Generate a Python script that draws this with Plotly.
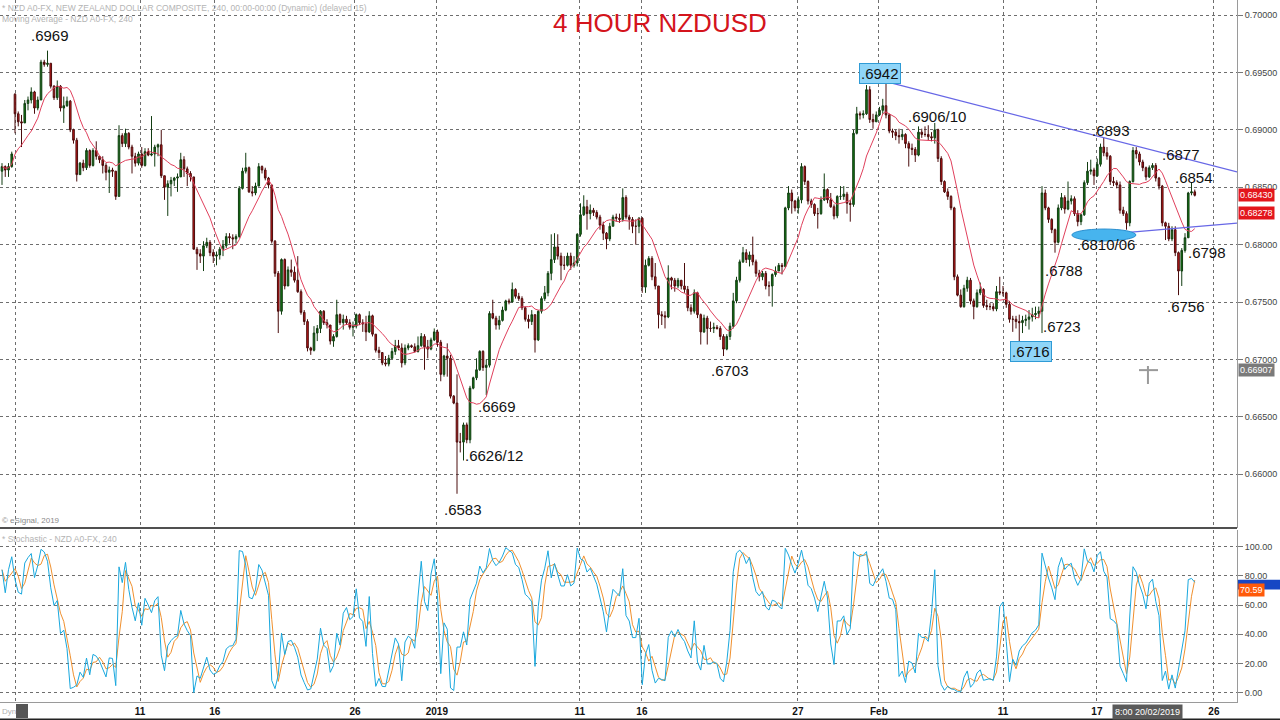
import plotly.graph_objects as go

# ---------------- data (prices in pips: value / 10000) ----------------
closes_pips = [
    6868,6865,6868,6879,6914,6907,6906,6923,6926,6933,6919,6926,6959,6957,6958,6938,6928,6938,6919,6921,
    6925,6900,6891,6861,6871,6867,6882,6869,6882,6877,6874,6869,6863,6865,6864,6842,6895,6888,6897,6885,
    6877,6871,6879,6869,6881,6878,6879,6885,6887,6860,6850,6853,6856,6858,6859,6874,6866,6862,6859,6796,
    6792,6790,6799,6802,6793,6790,6791,
    6796,6799,6807,6806,6805,6807,6849,6864,6867,6846,6845,6851,6868,6865,6858,6852,6803,6775,6742,6787,
    6764,6778,6776,6769,6759,6741,6733,6710,6708,6723,6727,6742,6732,6730,6716,6720,6739,6732,6735,6732,
    6728,6729,6739,6732,6731,6724,6738,6722,6708,6706,6697,6696,6701,6707,6712,6710,6697,6710,6712,6711,
    6707,6712,6720,6711,
    6709,6717,6724,6715,6687,6703,6701,6668,6662,6628,6628,6643,6630,6675,6684,6691,6707,6693,6695,6740,
    6736,6730,6734,6743,6751,6750,6761,6755,6753,6745,6735,6733,6739,6717,6742,6753,6758,6775,6787,6798,
    6790,6782,6782,6790,6782,6784,6809,6826,6833,6827,6830,6828,6824,6817,6810,6805,6816,6824,6823,6822,
    6841,6824,6822,6816,6816,
    6823,6763,6782,6788,6772,6764,6739,6738,6737,6771,6769,6764,6769,6764,6761,6745,6742,6758,6739,6724,
    6736,6727,6727,6728,6727,6720,6709,6720,6729,6751,6769,6785,6793,6787,6791,6785,6775,6772,6775,6764,
    6764,6774,6777,6782,6781,6832,6845,6838,6832,6839,6868,6855,6838,6835,6827,6827,6839,6848,6839,6833,
    6825,6842,6842,6844,
    6836,6835,6897,6914,6913,6914,6935,6909,6907,6913,6917,6921,6913,6899,6898,6895,6894,6896,6888,6884,
    6883,6878,6898,6896,6896,6894,6893,6900,6875,6855,6846,6842,6832,6772,6756,6746,6762,6769,6751,6746,
    6758,6761,6747,6746,6746,6744,6759,6758,6758,6748,6735,6735,6733,6732,6734,6735,6737,6739,6740,6742,
    6845,6832,6822,6813,6802,6832,6841,6831,6838,6840,6827,6820,6826,6854,6864,6865,6860,6870,6885,6880,
    6877,6855,6854,6852,6830,6827,6819,6855,6882,6879,6872,6867,6859,6867,6869,6858,6851,6819,6816,6805,
    6813,6793,6777,6795,6806,6845,6846,6843,
]

highs_pips = [
    6871,6869,6871,6881,6932,6916,6913,6926,6929,6937,6934,6929,6961,6961,6969,6958,6939,6943,6939,6929,
    6929,6926,6901,6893,6872,6874,6884,6883,6884,6890,6877,6877,6871,6868,6867,6864,6904,6897,6901,6898,
    6887,6880,6881,6885,6884,6884,6912,6887,6888,6900,6859,6856,6859,6859,6862,6880,6877,6868,6864,6856,
    6798,6796,6803,6806,6804,6796,6794,
    6798,6804,6810,6810,6809,6809,6851,6867,6880,6868,6851,6854,6871,6869,6867,6859,6852,6804,6777,6788,
    6788,6781,6787,6781,6790,6761,6743,6735,6711,6729,6730,6743,6743,6735,6730,6722,6752,6740,6739,6738,
    6735,6733,6740,6740,6735,6738,6742,6739,6722,6711,6706,6703,6704,6710,6717,6717,6714,6713,6714,6713,
    6714,6720,6723,6722,
    6717,6719,6727,6726,6717,6704,6714,6704,6669,6687,6636,6645,6645,6677,6685,6701,6708,6708,6700,6742,
    6752,6738,6738,6746,6752,6753,6767,6762,6758,6755,6746,6739,6743,6735,6743,6755,6764,6777,6809,6810,
    6809,6793,6790,6793,6793,6790,6810,6836,6843,6839,6835,6832,6830,6826,6820,6811,6819,6826,6827,6827,
    6849,6843,6826,6824,6822,
    6824,6824,6787,6790,6790,6784,6764,6742,6742,6782,6772,6771,6771,6769,6784,6764,6748,6761,6759,6740,
    6739,6738,6733,6732,6730,6729,6722,6722,6732,6758,6772,6787,6798,6796,6794,6807,6787,6778,6777,6777,
    6768,6775,6781,6784,6784,6833,6851,6848,6839,6842,6871,6869,6856,6840,6836,6832,6842,6862,6849,6845,
    6835,6843,6851,6851,
    6846,6839,6900,6920,6916,6917,6939,6938,6914,6916,6920,6927,6942,6914,6901,6900,6901,6900,6897,6890,
    6888,6885,6903,6901,6903,6904,6898,6906,6901,6877,6856,6849,6843,6833,6774,6761,6765,6772,6771,6753,
    6761,6767,6762,6752,6749,6749,6764,6772,6764,6759,6751,6738,6738,6739,6738,6739,6743,6745,6746,6746,
    6851,6848,6833,6823,6814,6835,6845,6843,6855,6843,6842,6830,6827,6856,6872,6874,6867,6875,6888,6893,
    6885,6878,6859,6856,6855,6833,6829,6856,6885,6885,6881,6874,6868,6869,6871,6871,6859,6852,6820,6819,
    6816,6816,6794,6797,6810,6846,6854,6848,
]

lows_pips = [
    6852,6859,6859,6867,6897,6903,6885,6909,6917,6923,6914,6917,6926,6955,6955,6936,6926,6926,6916,6906,
    6920,6898,6888,6855,6861,6864,6865,6867,6868,6874,6871,6862,6856,6845,6859,6839,6842,6885,6885,6883,
    6862,6868,6869,6867,6868,6877,6877,6868,6877,6858,6839,6825,6842,6851,6846,6859,6859,6851,6855,6796,
    6778,6784,6777,6797,6790,6784,6782,
    6787,6790,6797,6801,6796,6801,6806,6848,6862,6845,6842,6843,6851,6862,6856,6849,6801,6772,6723,6739,
    6761,6764,6772,6767,6758,6739,6730,6707,6704,6707,6716,6723,6730,6727,6713,6711,6719,6730,6726,6730,
    6726,6720,6727,6730,6724,6716,6723,6720,6706,6701,6695,6694,6694,6700,6704,6708,6693,6695,6708,6710,
    6706,6706,6711,6691,
    6701,6708,6716,6711,6681,6685,6685,6666,6661,6583,6619,6612,6627,6627,6674,6682,6690,6690,6669,6693,
    6735,6726,6726,6733,6742,6748,6751,6753,6751,6743,6733,6727,6730,6706,6716,6740,6751,6755,6769,6784,
    6787,6769,6778,6781,6778,6780,6781,6807,6825,6813,6822,6825,6822,6813,6804,6796,6803,6816,6820,6819,
    6820,6822,6813,6810,6800,
    6810,6758,6758,6781,6769,6761,6727,6730,6727,6736,6761,6759,6762,6761,6758,6742,6739,6740,6736,6713,
    6723,6713,6724,6723,6726,6717,6703,6708,6717,6727,6749,6767,6784,6784,6781,6782,6772,6768,6769,6761,
    6755,6746,6772,6777,6774,6780,6830,6827,6829,6827,6836,6852,6835,6832,6825,6814,6826,6838,6836,6832,
    6822,6823,6839,6839,
    6827,6820,6833,6896,6909,6910,6913,6906,6901,6909,6912,6914,6910,6897,6893,6891,6888,6891,6884,6868,
    6878,6872,6877,6893,6894,6891,6890,6888,6872,6852,6845,6839,6830,6769,6755,6745,6745,6759,6748,6735,
    6745,6756,6745,6743,6743,6742,6742,6756,6755,6745,6732,6724,6727,6716,6723,6729,6726,6733,6735,6736,
    6723,6830,6819,6810,6793,6801,6830,6827,6830,6835,6825,6816,6817,6825,6852,6861,6852,6859,6868,6877,
    6874,6852,6851,6849,6827,6825,6813,6816,6854,6875,6869,6864,6856,6858,6865,6855,6848,6816,6804,6803,
    6803,6790,6756,6764,6793,6806,6843,6842,
]

# candles that open on a gap (index -> open in pips); others open at the previous close
gap_open_idx = [0, 4]
gap_open_pips = [6864, 6931]

# x axis (candle index) ticks
tick_idx = [4.3, 42.5, 65.5, 108.6, 133.8, 177.8, 196.9, 244.9, 269.8, 308.0, 336.9, 372.9]
tick_text = ["", "11", "16", "26", "2019", "11", "16", "27", "Feb", "11", "17", "26"]

price_ticks = [0.660, 0.665, 0.670, 0.675, 0.680, 0.685, 0.690, 0.695, 0.700]
stoch_ticks = [0, 20, 40, 60, 80, 100]

# chart annotations (price levels)
level_texts = [".6969", ".6942", ".6906/10", ".6893", ".6877", ".6854", ".6810/06", ".6798",
               ".6788", ".6756", ".6723", ".6716", ".6703", ".6669", ".6626/12", ".6583"]
boxed_levels = [".6942", ".6716"]

trend_upper = ([272.6, 380.0], [0.69416, 0.68633])
trend_lower = ([339.4, 380.0], [0.68090, 0.68188])
support_zone_idx = [329.2, 348.9]
support_zone_price = [0.68032, 0.68136]

last_close_tag = 0.68430
ma_tag = 0.68278
cursor_idx = 352.6
cursor_price = 0.66907
cursor_time = "8:00 20/02/2019"
stoch_k_tag = 74.8
stoch_d_tag = 70.59

MA_PERIOD = 10
K_PERIOD = 14
D_PERIOD = 3

# ---------------- derived series ----------------
n = len(closes_pips)
gap_map = dict(zip(gap_open_idx, gap_open_pips))
opens_p = []
for i in range(n):
    if i in gap_map:
        opens_p.append(gap_map[i])
    else:
        opens_p.append(closes_pips[i - 1])
highs_p = [max(h, o, c) for h, o, c in zip(highs_pips, opens_p, closes_pips)]
lows_p = [min(l, o, c) for l, o, c in zip(lows_pips, opens_p, closes_pips)]

opens = [v / 10000 for v in opens_p]
highs = [v / 10000 for v in highs_p]
lows = [v / 10000 for v in lows_p]
closes = [v / 10000 for v in closes_pips]
xs = list(range(n))

ma = []
for i in range(n):
    w = closes[max(0, i - MA_PERIOD + 1): i + 1]
    ma.append(sum(w) / len(w))

k_line = []
for i in range(n):
    lo = min(lows[max(0, i - K_PERIOD + 1): i + 1])
    hi = max(highs[max(0, i - K_PERIOD + 1): i + 1])
    k_line.append(100 * (closes[i] - lo) / (hi - lo) if hi > lo else 50)
d_line = []
for i in range(n):
    w = k_line[max(0, i - D_PERIOD + 1): i + 1]
    d_line.append(sum(w) / len(w))

# ---------------- geometry helpers (page pixels -> paper) ----------------
PLOT_W = 1237.0
PLOT_H = 702.0
def pxx(px):
    return px / PLOT_W
def pxy(py):
    return 1 - py / PLOT_H

FONT = "Liberation Sans, Arial, sans-serif"
GRID = "#6e6e6e"
DASH = "3px,3px"

fig = go.Figure()

fig.add_trace(go.Candlestick(
    x=xs, open=opens, high=highs, low=lows, close=closes,
    increasing=dict(line=dict(color="#123d12", width=1), fillcolor="#117a11"),
    decreasing=dict(line=dict(color="#4a0c0c", width=1), fillcolor="#c81818"),
    whiskerwidth=0, showlegend=False, hoverinfo="skip", xaxis="x", yaxis="y",
))
fig.add_trace(go.Scatter(x=xs, y=ma, mode="lines", line=dict(color="#e0405c", width=1),
                         showlegend=False, hoverinfo="skip", xaxis="x", yaxis="y"))

for xx, yy in (trend_upper, trend_lower):
    fig.add_trace(go.Scatter(x=xx, y=yy, mode="lines", line=dict(color="#6767e6", width=1.2),
                             showlegend=False, hoverinfo="skip", xaxis="x", yaxis="y", cliponaxis=False))

fig.add_trace(go.Scatter(x=xs, y=d_line, mode="lines", line=dict(color="#f0902e", width=1),
                         showlegend=False, hoverinfo="skip", xaxis="x2", yaxis="y2"))
fig.add_trace(go.Scatter(x=xs, y=k_line, mode="lines", line=dict(color="#19a8de", width=1),
                         showlegend=False, hoverinfo="skip", xaxis="x2", yaxis="y2"))

shapes = []
# support ellipse
shapes.append(dict(type="circle", xref="x", yref="y",
                   x0=support_zone_idx[0], x1=support_zone_idx[1],
                   y0=support_zone_price[0], y1=support_zone_price[1],
                   fillcolor="#47b4ee", line=dict(color="#2a8fd0", width=1), layer="above"))
# panel separator
shapes.append(dict(type="line", xref="paper", yref="paper", x0=0, x1=1, y0=pxy(528), y1=pxy(528),
                   line=dict(color="#505050", width=2)))
# bottom bar
shapes.append(dict(type="line", xref="paper", yref="paper", x0=0, x1=1280 / PLOT_W, y0=pxy(719.5), y1=pxy(719.5),
                   line=dict(color="#222222", width=2)))
# cursor crosshair
shapes.append(dict(type="line", xref="x", yref="paper", x0=cursor_idx, x1=cursor_idx,
                   y0=pxy(366), y1=pxy(384), line=dict(color="#9a9a9a", width=2)))
shapes.append(dict(type="line", xref="paper", yref="y", x0=pxx(1139), x1=pxx(1158),
                   y0=cursor_price, y1=cursor_price, line=dict(color="#9a9a9a", width=2)))
# icon bottom-left
shapes.append(dict(type="rect", xref="paper", yref="paper", x0=pxx(16), x1=pxx(28), y0=pxy(718), y1=pxy(704),
                   fillcolor="#555555", line=dict(width=0)))
# %K value tag (mostly hidden behind the %D tag)
shapes.append(dict(type="rect", xref="paper", yref="y2", x0=1.0 + 1 / PLOT_W, x1=1280 / PLOT_W,
                   y0=stoch_d_tag, y1=stoch_k_tag + 2.5, fillcolor="#1747c4", line=dict(width=0)))

annotations = []
def txt(text, px, py, size=15, color="#111111", xanchor="center", yanchor="middle", **kw):
    annotations.append(dict(text=text, xref="paper", yref="paper", x=pxx(px), y=pxy(py),
                            xanchor=xanchor, yanchor=yanchor, showarrow=False,
                            font=dict(family=FONT, size=size, color=color), **kw))

txt("4 HOUR NZDUSD", 660, 23, size=26, color="#d4141c")
txt("* NZD A0-FX, NEW ZEALAND DOLLAR COMPOSITE, 240, 00:00-00:00 (Dynamic) (delayed 15)", 0, 8,
    size=8.5, color="#b4b4b4", xanchor="left")
txt("Moving Average - NZD A0-FX, 240", 0, 19, size=8.5, color="#b4b4b4", xanchor="left")
txt("© eSignal, 2019", 0, 520, size=8, color="#8a8a8a", xanchor="left")
txt("* Stochastic - NZD A0-FX, 240", 0, 539, size=8.5, color="#b4b4b4", xanchor="left")
txt("Dyn", 0, 711, size=8, color="#b0b0b0", xanchor="left")

label_px = [(50, 35), (880, 73), (937, 117), (1111, 131), (1181, 155), (1194, 177), (1106, 244), (1207, 252),
            (1064, 270), (1186, 306), (1062, 326), (1031, 351), (730, 370), (497, 406), (494, 455), (463, 509)]
for t, (px, py) in zip(level_texts, label_px):
    if t in boxed_levels:
        txt(t, px, py, size=15, bgcolor="#8fd5f8", bordercolor="#2f9bd6", borderwidth=1, borderpad=1)
    else:
        txt(t, px, py, size=15)

# axis value tags
def tag(text, yval, yref, bg, fg="#ffffff"):
    annotations.append(dict(text=text, xref="paper", yref=yref, x=1.0, y=yval, xanchor="left", yanchor="middle",
                            xshift=1, showarrow=False, bgcolor=bg, borderpad=1,
                            font=dict(family=FONT, size=9, color=fg)))
tag("%.5f" % last_close_tag, last_close_tag, "y", "#e3161c")
tag("%.5f" % ma_tag, ma_tag, "y", "#e3161c")
tag("%.5f" % cursor_price, cursor_price, "y", "#7a7a7a")
tag("%.2f" % stoch_d_tag, stoch_d_tag, "y2", "#ff5a0a")
annotations.append(dict(text=cursor_time, xref="x", yref="paper", x=cursor_idx, y=pxy(712),
                        xanchor="center", yanchor="middle", showarrow=False, bgcolor="#5a5a5a",
                        borderpad=2, font=dict(family=FONT, size=9, color="#ffffff")))

axis_common = dict(showgrid=True, gridcolor=GRID, griddash=DASH, gridwidth=1, zeroline=False)

fig.update_layout(
    width=1280, height=720,
    margin=dict(l=0, r=43, t=0, b=18),
    paper_bgcolor="#ffffff", plot_bgcolor="#ffffff",
    showlegend=False,
    font=dict(family=FONT, color="#333333"),
    xaxis=dict(domain=[0, 1], anchor="y", range=[-0.615, 380.0], tickvals=tick_idx,
               showticklabels=False, ticks="", rangeslider=dict(visible=False), **axis_common),
    xaxis2=dict(domain=[0, 1], anchor="y2", matches="x", range=[-0.615, 380.0], tickvals=tick_idx,
                ticktext=["<b>%s</b>" % t if t else "" for t in tick_text],
                tickfont=dict(family=FONT, size=10, color="#111111"),
                ticks="", showline=True, linecolor="#9a9a9a", linewidth=1,
                rangeslider=dict(visible=False), **axis_common),
    yaxis=dict(domain=[pxy(528), 1], anchor="x", side="right", range=[0.655317, 0.70131],
               tickvals=price_ticks, ticktext=["%.5f" % v for v in price_ticks],
               tickfont=dict(family=FONT, size=9, color="#444444"),
               ticks="outside", ticklen=5, tickcolor="#777777",
               showline=True, linecolor="#9a9a9a", linewidth=1, **axis_common),
    yaxis2=dict(domain=[0, pxy(530)], anchor="x2", side="right", range=[-6.37, 111.4],
                tickvals=stoch_ticks, ticktext=["%.2f" % v for v in stoch_ticks],
                tickfont=dict(family=FONT, size=9, color="#444444"),
                ticks="outside", ticklen=5, tickcolor="#777777",
                showline=True, linecolor="#9a9a9a", linewidth=1, **axis_common),
    shapes=shapes,
    annotations=annotations,
)

fig.write_html("out.html", config={"displayModeBar": False},
               post_script="document.body.style.margin='0';document.body.style.overflow='hidden';")
